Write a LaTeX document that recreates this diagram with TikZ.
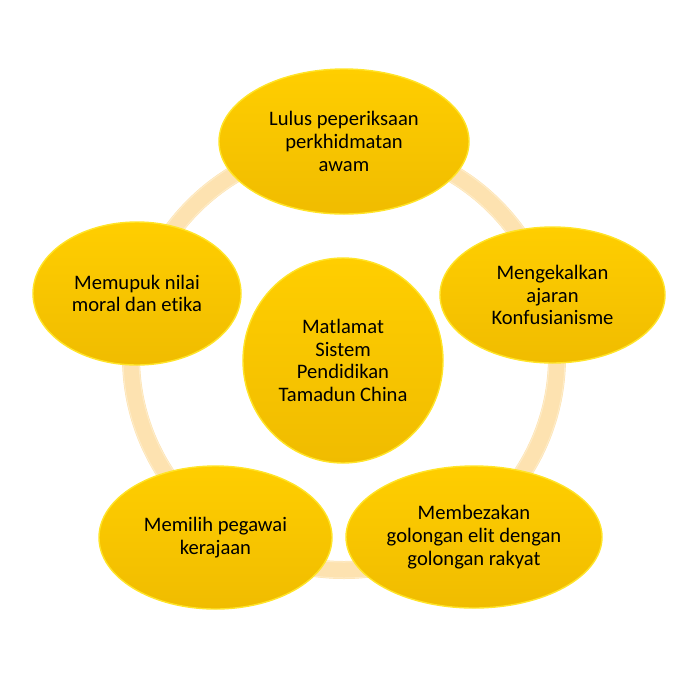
\documentclass[tikz,border=0pt]{standalone}
\usepackage{fontspec}
\setmainfont{Carlito}[Ligatures={NoCommon}]
\usetikzlibrary{shapes.geometric}
\definecolor{ringc}{RGB}{253,226,176}
\definecolor{ringe}{RGB}{254,236,200}
\definecolor{goldtop}{RGB}{255,206,0}
\definecolor{goldbot}{RGB}{240,188,0}
\definecolor{rimc}{RGB}{255,228,40}
\tikzset{
  bubble/.style={ellipse, inner sep=0pt, top color=goldtop, bottom color=goldbot,
    draw=rimc, line width=1.4pt, align=center,
    font=\fontsize{20.6}{22.7}\selectfont, text=black},
  ringline/.style={draw=ringc, line width=18pt}
}
\begin{document}
\begin{tikzpicture}[x=1pt,y=-1pt]
\useasboundingbox (0,0) rectangle (692,678);
\coordinate (rc) at (344,357);
\draw[ringline] (rc) circle[radius=213pt];
\draw[draw=ringe, line width=1pt] (rc) circle[radius=221pt];
\draw[draw=ringe, line width=1pt] (rc) circle[radius=205pt];
\node[bubble, minimum width=250pt, minimum height=145pt] (top) at (344,141.5) {Lulus peperiksaan\\perkhidmatan\\awam};
\node[bubble, minimum width=225pt, minimum height=136pt] (right) at (552.5,295) {Mengekalkan\\ajaran\\Konfusianisme};
\node[bubble, minimum width=208pt, minimum height=143pt] (left) at (137,293.5) {Memupuk nilai\\moral dan etika};
\node[bubble, minimum width=233pt, minimum height=143pt] (bl) at (215.5,537.5) {Memilih pegawai\\kerajaan};
\node[bubble, minimum width=256pt, minimum height=142pt] (br) at (474,537) {Membezakan\\golongan elit dengan\\golongan rakyat};
\node[bubble, minimum width=200pt, minimum height=205pt] (ctr) at (343,360.5) {Matlamat\\Sistem\\Pendidikan\\Tamadun China};
\end{tikzpicture}
\end{document}
